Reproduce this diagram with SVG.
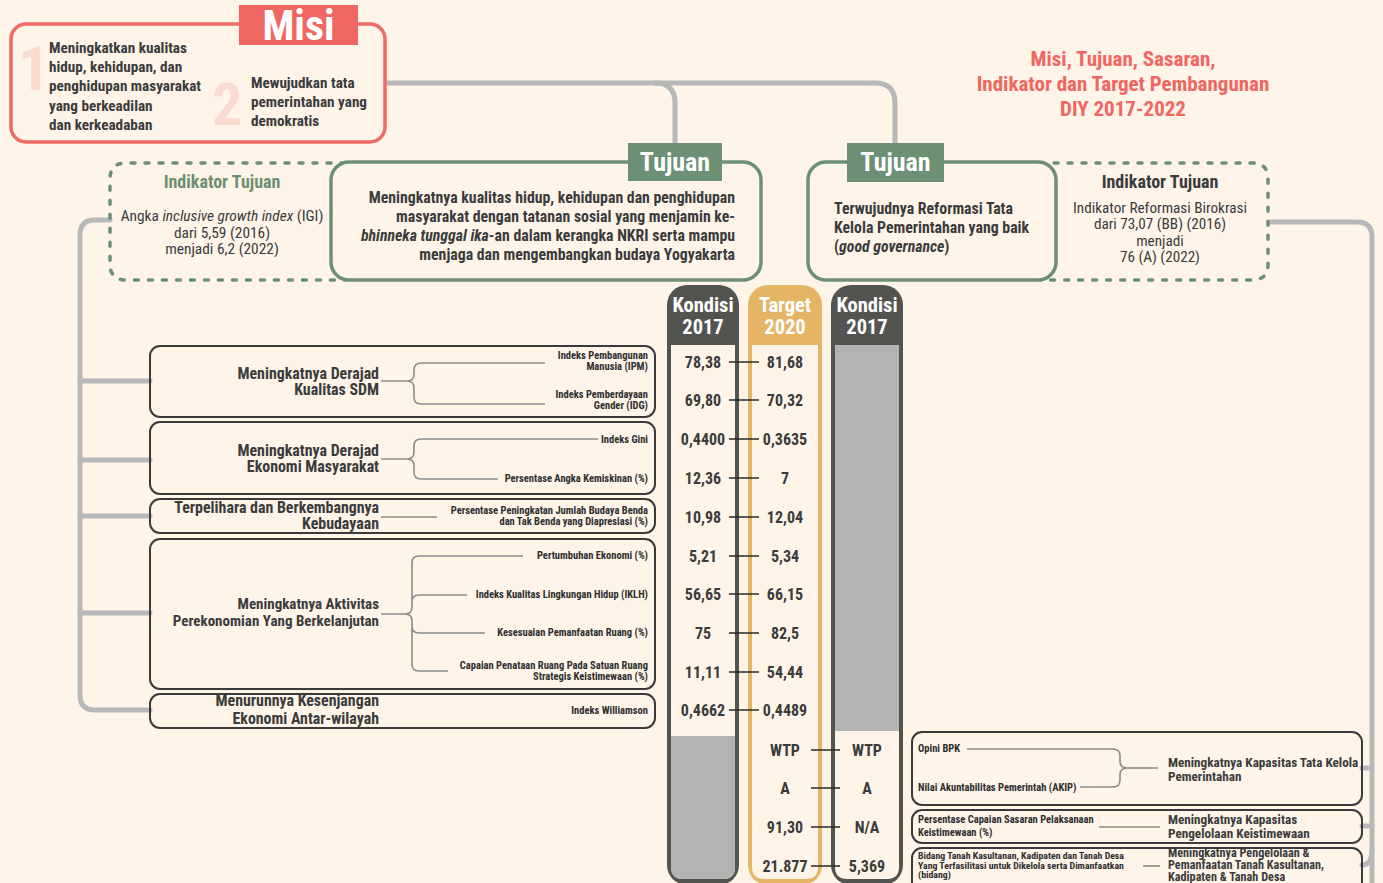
<svg xmlns="http://www.w3.org/2000/svg" width="1383" height="883" viewBox="0 0 1383 883">
<style>
.c{font-family:"Liberation Sans Narrow","Roboto Condensed","DejaVu Sans Condensed","Liberation Sans",sans-serif;font-stretch:condensed}
.b{font-weight:bold}
.dk{fill:#3b3b3b}
.wh{fill:#ffffff}
.conn{fill:none;stroke:#b8b8b8;stroke-width:5;stroke-linecap:round;stroke-linejoin:round}
.br{fill:none;stroke:#8c8c8c;stroke-width:1.6}
.box{fill:none;stroke:#3a3a3a;stroke-width:2}
.tick{stroke:#2a2a2a;stroke-width:1.6}
.val{font-size:16px;font-weight:bold;fill:#3b3b3b;text-anchor:middle}
.ind{font-size:10.5px;font-weight:bold;fill:#2e2e2e;text-anchor:end}
.goal{font-size:15.9px;font-weight:bold;fill:#3b3b3b;text-anchor:end}
.sm{font-size:10.5px;font-weight:bold;fill:#2e2e2e}
.rg{font-size:13.2px;font-weight:bold;fill:#3b3b3b}
.dash{fill:none;stroke:#6d8f74;stroke-width:3.5;stroke-dasharray:4 10;stroke-linecap:round}
</style>
<rect width="1383" height="883" fill="#fef4e8"/>

<g id="connectors">
<path class="conn" d="M385,83 H655 Q675,83 675,103 V145"/>
<path class="conn" d="M655,83 H875 Q895,83 895,103 V145"/>
<path class="conn" d="M110,220 H95 Q80,220 80,235 V695 Q80,710 95,710 H150"/>
<path class="conn" d="M80,381 H150 M80,460 H150 M80,516 H150 M80,613 H150"/>
<path class="conn" d="M1270,222 H1357 Q1372,222 1372,237 V885"/>
<path class="conn" d="M1372,768 H1362 M1372,826 H1362 M1372,850 Q1372,865 1362,865"/>
</g>

<g id="misi">
<rect x="11" y="24" width="374" height="118" rx="15" fill="#fef4e8" stroke="#ee6a65" stroke-width="3.5"/>
<rect x="239" y="5" width="119" height="40" fill="#ef6662"/>
<text x="298.5" y="40" class="c b wh" font-size="42" text-anchor="middle">Misi</text>
<text x="18" y="90" class="c b" font-size="62" fill="#fadbcf">1</text>
<text x="212" y="125" class="c b" font-size="60" fill="#fadbcf">2</text>
<g class="c b dk" font-size="15.2">
<text x="49" y="53">Meningkatkan kualitas</text>
<text x="49" y="72">hidup, kehidupan, dan</text>
<text x="49" y="91">penghidupan masyarakat</text>
<text x="49" y="111">yang berkeadilan</text>
<text x="49" y="130">dan kerkeadaban</text>
<text x="251" y="88">Mewujudkan tata</text>
<text x="251" y="107">pemerintahan yang</text>
<text x="251" y="126">demokratis</text>
</g>
</g>

<g id="title" class="c b" font-size="21" fill="#ef6662" text-anchor="middle">
<text x="1123" y="66">Misi, Tujuan, Sasaran,</text>
<text x="1123" y="91">Indikator dan Target Pembangunan</text>
<text x="1123" y="116">DIY 2017-2022</text>
</g>

<g id="indikator-tujuan-1">
<path class="dash" d="M345,163 H126 Q110,163 110,179 V264 Q110,280 126,280 H345"/>
<text x="222" y="188" class="c b" font-size="18" fill="#6d8f74" text-anchor="middle">Indikator Tujuan</text>
<g class="c dk" font-size="15.4" text-anchor="middle">
<text x="222" y="221">Angka <tspan font-style="italic">inclusive growth index</tspan> (IGI)</text>
<text x="222" y="237.5">dari 5,59 (2016)</text>
<text x="222" y="254">menjadi 6,2 (2022)</text>
</g>
</g>

<g id="tujuan-1">
<rect x="331" y="162" width="430" height="118" rx="18" fill="#fef4e8" stroke="#6d8f74" stroke-width="3.5"/>
<rect x="628" y="143" width="94" height="38" fill="#6d8f74"/>
<text x="675" y="171" class="c b wh" font-size="26" text-anchor="middle">Tujuan</text>
<g class="c b dk" font-size="15.8" text-anchor="end">
<text x="735" y="203">Meningkatnya kualitas hidup, kehidupan dan penghidupan</text>
<text x="735" y="222">masyarakat dengan tatanan sosial yang menjamin ke-</text>
<text x="735" y="241"><tspan font-style="italic">bhinneka tunggal ika</tspan>-an dalam kerangka NKRI serta  mampu</text>
<text x="735" y="260">menjaga dan mengembangkan budaya Yogyakarta</text>
</g>
</g>

<g id="indikator-tujuan-2">
<path class="dash" d="M1040,163 H1252 Q1268,163 1268,179 V264 Q1268,280 1252,280 H1040"/>
<text x="1160" y="188" class="c b dk" font-size="18" text-anchor="middle">Indikator Tujuan</text>
<g class="c dk" font-size="15.2" text-anchor="middle">
<text x="1160" y="213">Indikator Reformasi Birokrasi</text>
<text x="1160" y="229">dari 73,07 (BB) (2016)</text>
<text x="1160" y="245.5">menjadi</text>
<text x="1160" y="262">76 (A) (2022)</text>
</g>
</g>

<g id="tujuan-2">
<rect x="808" y="162" width="248" height="118" rx="18" fill="#fef4e8" stroke="#6d8f74" stroke-width="3.5"/>
<rect x="847" y="143" width="97" height="39" fill="#6d8f74"/>
<text x="895.5" y="171" class="c b wh" font-size="26" text-anchor="middle">Tujuan</text>
<g class="c b dk" font-size="15.8">
<text x="834" y="214">Terwujudnya Reformasi Tata</text>
<text x="834" y="233">Kelola Pemerintahan yang baik</text>
<text x="834" y="252">(<tspan font-style="italic">good governance</tspan>)</text>
</g>
</g>

<g id="col-kondisi-2017-a">
<rect x="667" y="285" width="72" height="600" rx="20" fill="#53544f"/>
<path d="M671,345 H735 V867 Q735,879 723,879 H683 Q671,879 671,867 Z" fill="#fef4e8"/>
<path d="M671,736 H735 V867 Q735,879 723,879 H683 Q671,879 671,867 Z" fill="#b3b3b3"/>
<text x="703" y="312" class="c b wh" font-size="20.5" text-anchor="middle">Kondisi</text>
<text x="703" y="334" class="c b wh" font-size="20.5" text-anchor="middle">2017</text>
</g>
<g id="col-target-2020">
<rect x="748" y="285" width="74" height="600" rx="20" fill="#e5b565"/>
<path d="M752,345 H818 V867 Q818,879 806,879 H764 Q752,879 752,867 Z" fill="#fef4e8"/>
<text x="785" y="312" class="c b wh" font-size="20.5" text-anchor="middle">Target</text>
<text x="785" y="334" class="c b wh" font-size="20.5" text-anchor="middle">2020</text>
</g>
<g id="col-kondisi-2017-b">
<rect x="831" y="285" width="72" height="600" rx="20" fill="#53544f"/>
<path d="M835,345 H899 V867 Q899,879 887,879 H847 Q835,879 835,867 Z" fill="#fef4e8"/>
<rect x="835" y="345" width="64" height="386" fill="#b3b3b3"/>
<text x="867" y="312" class="c b wh" font-size="20.5" text-anchor="middle">Kondisi</text>
<text x="867" y="334" class="c b wh" font-size="20.5" text-anchor="middle">2017</text>
</g>

<g id="values" class="c">
<path class="tick" d="M729,362 H759 M729,400 H759 M729,439 H759 M729,478 H759 M729,517 H759 M729,556 H759 M729,594 H759 M729,633 H759 M729,672 H759 M729,710 H759 M811,750 H840 M811,788 H840 M811,827 H840 M811,866 H840"/>
<text class="val" x="703" y="368">78,38</text><text class="val" x="785" y="368">81,68</text>
<text class="val" x="703" y="406">69,80</text><text class="val" x="785" y="406">70,32</text>
<text class="val" x="703" y="445">0,4400</text><text class="val" x="785" y="445">0,3635</text>
<text class="val" x="703" y="484">12,36</text><text class="val" x="785" y="484">7</text>
<text class="val" x="703" y="523">10,98</text><text class="val" x="785" y="523">12,04</text>
<text class="val" x="703" y="562">5,21</text><text class="val" x="785" y="562">5,34</text>
<text class="val" x="703" y="600">56,65</text><text class="val" x="785" y="600">66,15</text>
<text class="val" x="703" y="639">75</text><text class="val" x="785" y="639">82,5</text>
<text class="val" x="703" y="678">11,11</text><text class="val" x="785" y="678">54,44</text>
<text class="val" x="703" y="716">0,4662</text><text class="val" x="785" y="716">0,4489</text>
<text class="val" x="785" y="756">WTP</text><text class="val" x="867" y="756">WTP</text>
<text class="val" x="785" y="794">A</text><text class="val" x="867" y="794">A</text>
<text class="val" x="785" y="833">91,30</text><text class="val" x="867" y="833">N/A</text>
<text class="val" x="785" y="872">21.877</text><text class="val" x="867" y="872">5,369</text>
</g>

<g id="sasaran-sdm" class="c">
<rect class="box" x="150" y="346" width="505" height="71" rx="10"/>
<text class="goal" x="379" y="379">Meningkatnya Derajad</text>
<text class="goal" x="379" y="395">Kualitas SDM</text>
<path class="br" d="M381,381 H407 Q414,381 414,374 V370 Q414,363 421,363 H545 M407,381 Q414,381 414,388 V397 Q414,404 421,404 H545"/>
<text class="ind" x="648" y="359">Indeks Pembangunan</text>
<text class="ind" x="648" y="370">Manusia (IPM)</text>
<text class="ind" x="648" y="398">Indeks Pemberdayaan</text>
<text class="ind" x="648" y="409">Gender (IDG)</text>
</g>

<g id="sasaran-ekonomi" class="c">
<rect class="box" x="150" y="422" width="505" height="72" rx="10"/>
<text class="goal" x="379" y="456">Meningkatnya Derajad</text>
<text class="goal" x="379" y="472">Ekonomi Masyarakat</text>
<path class="br" d="M381,459 H407 Q414,459 414,452 V446 Q414,439 421,439 H598 M407,459 Q414,459 414,466 V472 Q414,479 421,479 H498"/>
<text class="ind" x="648" y="443">Indeks Gini</text>
<text class="ind" x="648" y="482">Persentase Angka Kemiskinan (%)</text>
</g>

<g id="sasaran-budaya" class="c">
<rect class="box" x="150" y="499" width="505" height="34" rx="10"/>
<text class="goal" x="379" y="513">Terpelihara dan Berkembangnya</text>
<text class="goal" x="379" y="529">Kebudayaan</text>
<path class="br" d="M381,517 H437"/>
<text class="ind" x="648" y="514">Persentase Peningkatan Jumlah Budaya Benda</text>
<text class="ind" x="648" y="525">dan Tak Benda yang Diapresiasi (%)</text>
</g>

<g id="sasaran-aktivitas" class="c">
<rect class="box" x="150" y="539" width="505" height="150" rx="10"/>
<text class="goal" x="379" y="609" style="font-size:15px">Meningkatnya Aktivitas</text>
<text class="goal" x="379" y="626" style="font-size:15px">Perekonomian Yang Berkelanjutan</text>
<path class="br" d="M381,614 H405 Q412,614 412,607 V563 Q412,556 419,556 H523 M405,614 Q412,614 412,621 V664 Q412,671 419,671 H448 M412,602 Q412,595 419,595 H467 M412,626 Q412,633 419,633 H485"/>
<text class="ind" x="648" y="559">Pertumbuhan Ekonomi (%)</text>
<text class="ind" x="648" y="598">Indeks Kualitas Lingkungan Hidup (IKLH)</text>
<text class="ind" x="648" y="636">Kesesuaian Pemanfaatan Ruang (%)</text>
<text class="ind" x="648" y="669">Capaian Penataan Ruang Pada Satuan Ruang</text>
<text class="ind" x="648" y="680">Strategis Keistimewaan (%)</text>
</g>

<g id="sasaran-kesenjangan" class="c">
<rect class="box" x="150" y="694" width="505" height="34" rx="10"/>
<text class="goal" x="379" y="706">Menurunnya Kesenjangan</text>
<text class="goal" x="379" y="724">Ekonomi Antar-wilayah</text>
<text class="ind" x="648" y="714">Indeks Williamson</text>
</g>

<g id="sasaran-tata-kelola" class="c">
<rect class="box" x="912" y="732" width="450" height="73" rx="10"/>
<text x="918" y="752" class="sm">Opini BPK</text>
<text x="918" y="791" class="sm">Nilai Akuntabilitas Pemerintah (AKIP)</text>
<path class="br" d="M967,749 H1113 Q1120,749 1120,756 V761 Q1120,768 1127,768 H1158 M1127,768 Q1120,768 1120,775 V780 Q1120,787 1113,787 H1080"/>
<text x="1168" y="767" class="rg">Meningkatnya Kapasitas Tata Kelola</text>
<text x="1168" y="781" class="rg">Pemerintahan</text>
</g>

<g id="sasaran-keistimewaan" class="c">
<rect class="box" x="912" y="810" width="450" height="33" rx="10"/>
<text x="918" y="823" class="sm">Persentase Capaian Sasaran Pelaksanaan</text>
<text x="918" y="836" class="sm">Keistimewaan (%)</text>
<path class="br" d="M1099,827 H1160"/>
<text x="1168" y="824" class="rg">Meningkatnya Kapasitas</text>
<text x="1168" y="838" class="rg">Pengelolaan Keistimewaan</text>
</g>

<g id="sasaran-tanah" class="c">
<rect class="box" x="912" y="848" width="450" height="45" rx="10"/>
<text x="918" y="859" class="sm" style="font-size:9.8px">Bidang Tanah Kasultanan, Kadipaten dan Tanah Desa</text>
<text x="918" y="868.5" class="sm" style="font-size:9.8px">Yang Terfasilitasi untuk Dikelola serta Dimanfaatkan</text>
<text x="918" y="878" class="sm" style="font-size:9.8px">(bidang)</text>
<path class="br" d="M1143,866 H1160"/>
<text x="1168" y="857" class="rg" style="font-size:12.2px">Meningkatnya Pengelolaan &amp;</text>
<text x="1168" y="869" class="rg" style="font-size:12.2px">Pemanfaatan Tanah Kasultanan,</text>
<text x="1168" y="881" class="rg" style="font-size:12.2px">Kadipaten &amp; Tanah Desa</text>
</g>
</svg>
